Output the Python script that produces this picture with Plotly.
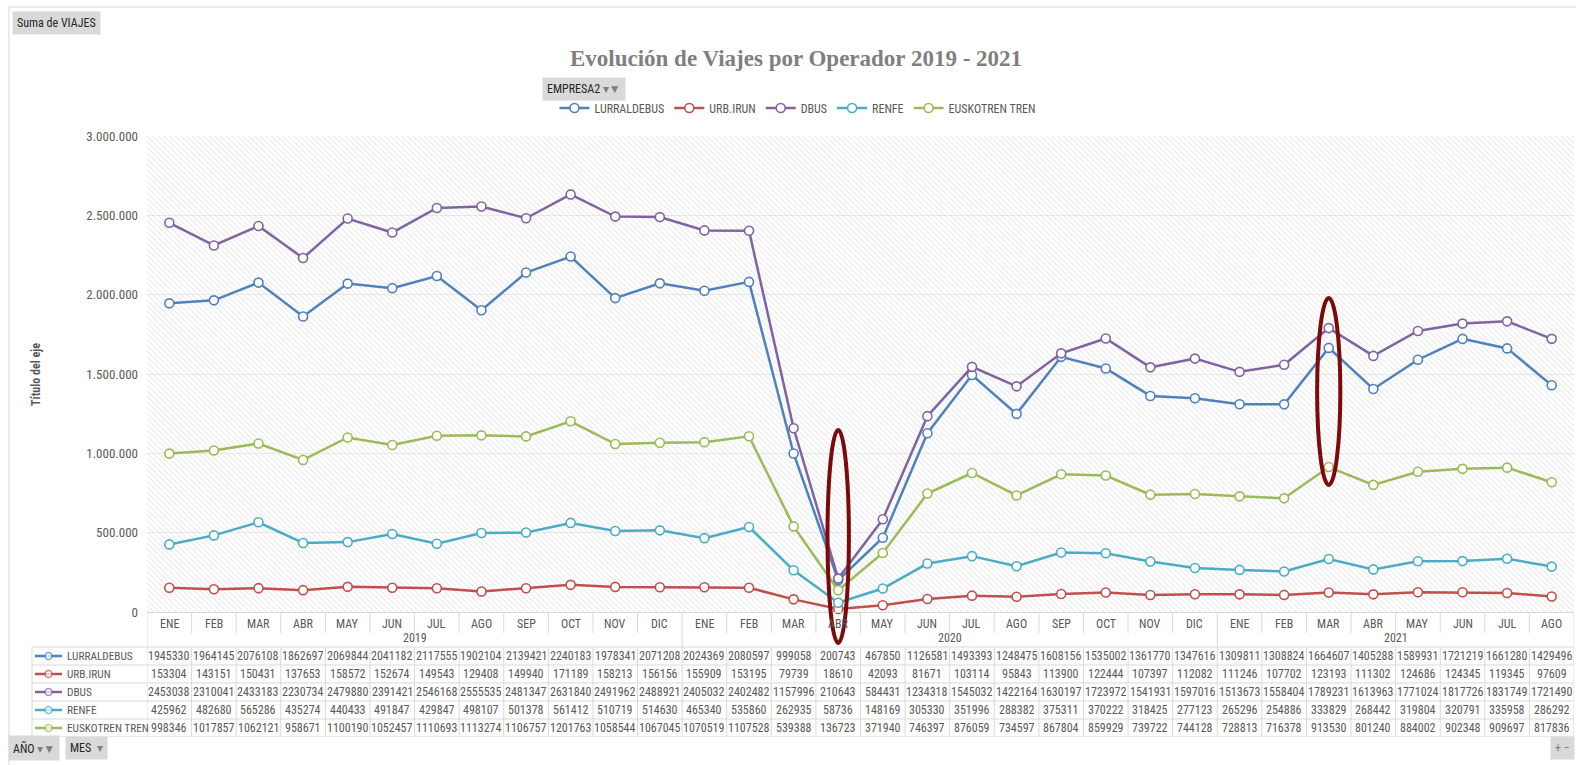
import plotly.graph_objects as go

# ---------------- data ----------------
months = ["ENE", "FEB", "MAR", "ABR", "MAY", "JUN", "JUL", "AGO", "SEP", "OCT", "NOV", "DIC"]
years = ["2019", "2020", "2021"]
months_per_year = [12, 12, 8]

series_names = ["LURRALDEBUS", "URB.IRUN", "DBUS", "RENFE", "EUSKOTREN TREN"]

lurraldebus = [1945330, 1964145, 2076108, 1862697, 2069844, 2041182, 2117555, 1902104, 2139421, 2240183, 1978341, 2071208,
               2024369, 2080597, 999058, 200743, 467850, 1126581, 1493393, 1248475, 1608156, 1535002, 1361770, 1347616,
               1309811, 1308824, 1664607, 1405288, 1589931, 1721219, 1661280, 1429496]
urb_irun = [153304, 143151, 150431, 137653, 158572, 152674, 149543, 129408, 149940, 171189, 158213, 156156,
            155909, 153195, 79739, 18610, 42093, 81671, 103114, 95843, 113900, 122444, 107397, 112082,
            111246, 107702, 123193, 111302, 124686, 124345, 119345, 97609]
dbus = [2453038, 2310041, 2433183, 2230734, 2479880, 2391421, 2546168, 2555535, 2481347, 2631840, 2491962, 2488921,
        2405032, 2402482, 1157996, 210643, 584431, 1234318, 1545032, 1422164, 1630197, 1723972, 1541931, 1597016,
        1513673, 1558404, 1789231, 1613963, 1771024, 1817726, 1831749, 1721490]
renfe = [425962, 482680, 565286, 435274, 440433, 491847, 429847, 498107, 501378, 561412, 510719, 514630,
         465340, 535860, 262935, 58736, 148169, 305330, 351996, 288382, 375311, 370222, 318425, 277123,
         265296, 254886, 333829, 268442, 319804, 320791, 335958, 286292]
euskotren = [998346, 1017857, 1062121, 958671, 1100190, 1052457, 1110693, 1113274, 1106757, 1201763, 1058544, 1067045,
             1070519, 1107528, 539388, 136723, 371940, 746397, 876059, 734597, 867804, 859929, 739722, 744128,
             728813, 716378, 913530, 801240, 884002, 902348, 909697, 817836]

series_values = [lurraldebus, urb_irun, dbus, renfe, euskotren]
series_colors = ["#4f81bd", "#c0504d", "#8064a2", "#4bacc6", "#9bbb59"]

y_ticks = [0, 500000, 1000000, 1500000, 2000000, 2500000, 3000000]
highlight_points = [(1, "ABR"), (2, "MAR")]  # (year index, month) highlighted with ellipses

# ---------------- layout helpers ----------------
W, H = 1576, 765
def px(p):
    return p / W
def py(p):
    return 1 - p / H

PLOT_L, PLOT_R, PLOT_T, PLOT_B = 147, 1574, 136, 612
TABLE_B = 737
FONT = "Roboto Condensed, Liberation Sans, sans-serif"
FS = 12
TXT = "#595959"
GRID = "#d9d9d9"

month_labels = []
for yi, (yr, n) in enumerate(zip(years, months_per_year)):
    for m in months[:n]:
        month_labels.append(m)
N = len(month_labels)
xs = list(range(N))

fig = go.Figure()

# hatched plot background
x_lo, x_hi = -0.5, N - 0.5
fig.add_trace(go.Scatter(
    x=[x_lo, x_hi, x_hi, x_lo, x_lo], y=[y_ticks[0], y_ticks[0], y_ticks[-1], y_ticks[-1], y_ticks[0]],
    mode="lines", fill="toself", line=dict(width=0, color="rgba(0,0,0,0)"),
    fillcolor="rgba(0,0,0,0)",
    fillpattern=dict(shape="\\", fgcolor="#cfcfcf", bgcolor="rgba(255,255,255,0)", size=4, solidity=0.25),
    hoverinfo="skip", showlegend=False))

for name, vals, col in zip(series_names, series_values, series_colors):
    fig.add_trace(go.Scatter(
        x=xs, y=vals, name=name, mode="lines+markers",
        line=dict(color=col, width=2.5),
        marker=dict(symbol="circle", size=9, color="white", line=dict(color=col, width=1.6)),
        cliponaxis=False))

# legend keys inside the data table (x2 / y2 axes)
ROW_TOP = 35
ROW_H = 18
row_centers = [ROW_TOP + ROW_H * (i + 0.5) for i in range(len(series_names))]
for name, col, rc in zip(series_names, series_colors, row_centers):
    fig.add_trace(go.Scatter(
        x=[3, 16.5, 30], y=[rc, rc, rc], xaxis="x2", yaxis="y2", mode="lines+markers",
        line=dict(color=col, width=2.5),
        marker=dict(symbol="circle", size=[0, 7, 0], color="white", line=dict(color=col, width=1.5)),
        hoverinfo="skip", showlegend=False, cliponaxis=False))

annotations = []
shapes = []

def txt(x, y, text, xref, yref, xanchor="center", size=FS, color=TXT):
    annotations.append(dict(x=x, y=y, xref=xref, yref=yref, text=text, showarrow=False,
                            xanchor=xanchor, yanchor="middle",
                            font=dict(family=FONT, size=size, color=color)))

# table text: months, years, values, names
for i, m in enumerate(month_labels):
    txt(i, 12, m, "x", "y2")
start = 0
for yr, n in zip(years, months_per_year):
    txt(start + (n - 1) / 2, 26, yr, "x", "y2")
    start += n
for name, vals, rc in zip(series_names, series_values, row_centers):
    txt(33, rc, name, "x2", "y2", xanchor="left", size=11.3)
    for i, v in enumerate(vals):
        txt(i, rc, str(v), "x", "y2")

# table grid
bounds = [b - 0.5 for b in range(N + 1)]
year_bounds = [-0.5]
acc = 0
for n in months_per_year:
    acc += n
    year_bounds.append(acc - 0.5)
for b in bounds:
    top_end = ROW_TOP if b in year_bounds else 21
    shapes.append(dict(type="line", xref="x", yref="y2", x0=b, x1=b, y0=0, y1=top_end,
                       line=dict(color=GRID, width=1)))
    shapes.append(dict(type="line", xref="x", yref="y2", x0=b, x1=b, y0=ROW_TOP, y1=ROW_TOP + ROW_H * 5,
                       line=dict(color=GRID, width=1)))
for k in range(len(series_names) + 1):
    yy = ROW_TOP + ROW_H * k
    shapes.append(dict(type="line", xref="paper", yref="y2", x0=px(32), x1=px(PLOT_R), y0=yy, y1=yy,
                       line=dict(color=GRID, width=1)))
shapes.append(dict(type="line", xref="paper", yref="y2", x0=px(32), x1=px(32), y0=ROW_TOP, y1=ROW_TOP + ROW_H * 5,
                   line=dict(color=GRID, width=1)))

# chart frame
shapes.append(dict(type="line", xref="paper", yref="paper", x0=px(9), x1=1.01, y0=py(7), y1=py(7),
                   line=dict(color=GRID, width=1)))
shapes.append(dict(type="line", xref="paper", yref="paper", x0=px(9), x1=px(9), y0=py(7), y1=-0.01,
                   line=dict(color=GRID, width=1)))

# highlight ellipses
def month_index(yi, m):
    return sum(months_per_year[:yi]) + months.index(m)
i1 = month_index(*highlight_points[0])
i2 = month_index(*highlight_points[1])
shapes.append(dict(type="circle", xref="x", yref="paper", x0=i1 - 0.24, x1=i1 + 0.24,
                   y0=py(643), y1=py(430), line=dict(color="#7b0a0a", width=4)))
shapes.append(dict(type="circle", xref="x", yref="paper", x0=i2 - 0.26, x1=i2 + 0.26,
                   y0=py(485), y1=py(298), line=dict(color="#7b0a0a", width=4)))

# pivot buttons
def button(text, xc, yc):
    annotations.append(dict(x=px(xc), y=py(yc), xref="paper", yref="paper", text=text, showarrow=False,
                            xanchor="center", yanchor="middle",
                            bgcolor="#d9d9d9", borderpad=4, font=dict(family=FONT, size=12, color="#262626")))
button("Suma de VIAJES", 57, 23)
button("AÑO <span style='color:#7f7f7f'>▾▼</span>", 34, 748)
button("MES  <span style='color:#7f7f7f'>▾</span>", 86, 748)
button("EMPRESA2 <span style='color:#7f7f7f'>▾▼</span>", 584, 89)
button("<span style='color:#7f7f7f'>+ −</span>", 1562, 748)

# axis title
annotations.append(dict(x=px(36), y=py(375), xref="paper", yref="paper", text="Título del eje",
                        textangle=-90, showarrow=False, xanchor="center", yanchor="middle",
                        font=dict(family=FONT, size=12, color=TXT, weight="bold")))

fig.update_layout(
    width=W, height=H,
    margin=dict(l=0, r=0, t=0, b=0, pad=0, autoexpand=False),
    paper_bgcolor="white", plot_bgcolor="white",
    separators=",.",
    title=dict(text="Evolución de Viajes por Operador 2019 - 2021", x=px(796), y=py(58),
               xanchor="center", yanchor="middle",
               font=dict(family="Liberation Serif, serif", size=23, color="#7f7f7f", weight="bold")),
    legend=dict(orientation="h", x=px(798), y=py(108), xanchor="center", yanchor="middle",
                font=dict(family=FONT, size=FS, color=TXT), bgcolor="rgba(0,0,0,0)",
                itemclick=False, itemdoubleclick=False),
    xaxis=dict(domain=[px(PLOT_L), px(PLOT_R)], range=[x_lo, x_hi], showticklabels=False, automargin=False,
               showgrid=False, zeroline=False, showline=True, linecolor=GRID, ticks="", anchor="y"),
    yaxis=dict(domain=[py(PLOT_B), py(PLOT_T)], range=[y_ticks[0], y_ticks[-1]], tickvals=y_ticks,
               tickformat=",d", showgrid=True, gridcolor="#ebebeb", zeroline=False, showline=False,
               automargin=False,
               ticks="", ticklabelstandoff=8, tickfont=dict(family=FONT, size=13, color=TXT), anchor="x"),
    xaxis2=dict(domain=[px(32), px(PLOT_L)], range=[0, PLOT_L - 32], visible=False, anchor="y2",
                automargin=False),
    yaxis2=dict(domain=[py(TABLE_B), py(PLOT_B)], range=[TABLE_B - PLOT_B, 0], visible=False, anchor="x2",
                automargin=False),
    annotations=annotations,
    shapes=shapes,
    hovermode=False,
)

fig.write_html("out.html", config={"displayModeBar": False},
               post_script="document.body.style.margin='0px';document.body.style.overflow='hidden';")
